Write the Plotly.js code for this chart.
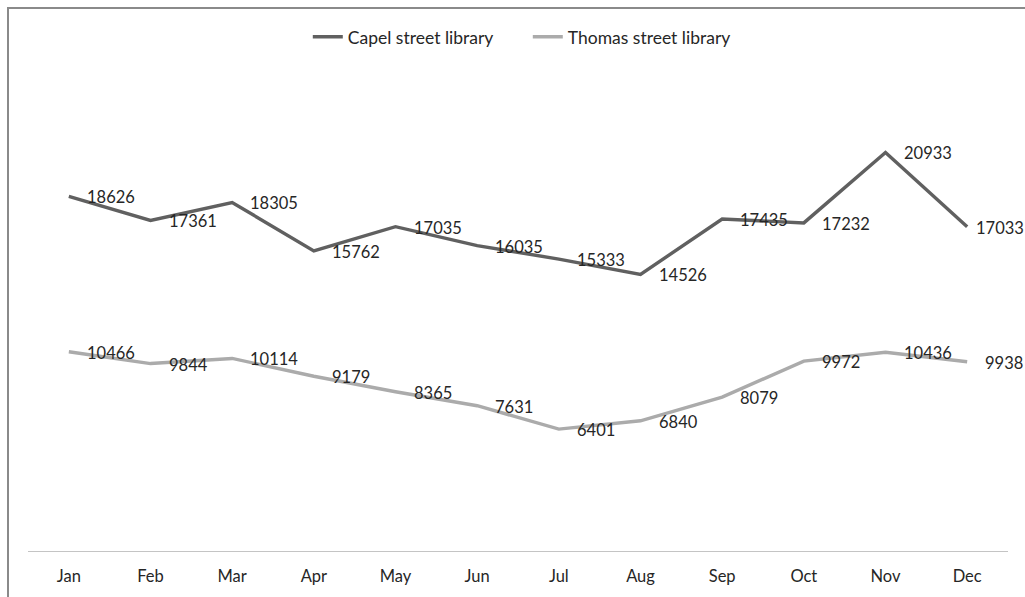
<!DOCTYPE html>
<html>
<head>
<meta charset="utf-8">
<script src="https://cdn.plot.ly/plotly-3.0.1.min.js"></script>
<style>
  html, body { margin: 0; padding: 0; background: #fff; }
  #wrap { position: relative; width: 1025px; height: 597px; overflow: hidden; }
  #chart { position: absolute; left: 0; top: 0; width: 1025px; height: 597px; }
  #frame { position: absolute; left: 7px; top: 7px; width: 1100px; height: 700px;
           border-left: 2px solid #8a8a8a; border-top: 2px solid #8a8a8a; pointer-events: none; }
</style>
</head>
<body>
<div id="wrap">
  <div id="chart"></div>
  <div id="frame"></div>
</div>
<script>
const months = ['Jan','Feb','Mar','Apr','May','Jun','Jul','Aug','Sep','Oct','Nov','Dec'];
const capelName = 'Capel street library';
const thomasName = 'Thomas street library';
const capel = [18626, 17361, 18305, 15762, 17035, 16035, 15333, 14526, 17435, 17232, 20933, 17033];
const thomas = [10466, 9844, 10114, 9179, 8365, 7631, 6401, 6840, 8079, 9972, 10436, 9938];

const FONT = 'Lato, "Open Sans", sans-serif';
const LABEL_SIZE = 16.5;
const W = 1025, ML = 28, MR = 17;

const traces = [
  { x: months, y: capel, name: capelName, type: 'scatter', mode: 'lines',
    line: { color: '#606060', width: 3.4 }, hoverinfo: 'skip' },
  { x: months, y: thomas, name: thomasName, type: 'scatter', mode: 'lines',
    line: { color: '#ababab', width: 3.4 }, hoverinfo: 'skip' }
];

// measure label widths so labels near the right edge are nudged inside the chart (as the original does)
const ctx = document.createElement('canvas').getContext('2d');
ctx.font = LABEL_SIZE + 'px Lato';
const plotW = W - ML - MR;
function labels(ys) {
  return ys.map((v, i) => {
    const txt = String(v);
    const px = ML + (i + 0.5) * plotW / months.length;
    const w = ctx.measureText(txt).width;
    let shift = 16;
    if (px + shift + w > W - 3) shift = Math.max(4, W - 3 - w - px);
    return {
      x: months[i], y: v, xref: 'x', yref: 'y', text: txt,
      showarrow: false, xanchor: 'left', yanchor: 'middle', xshift: shift, yshift: -1,
      font: { family: FONT, size: LABEL_SIZE, color: '#262626' }
    };
  });
}

const layout = {
  width: W, height: 597,
  margin: { l: ML, r: MR, t: 75, b: 46 },
  paper_bgcolor: '#ffffff', plot_bgcolor: '#ffffff',
  showlegend: true,
  legend: { orientation: 'h', x: 0.51, xanchor: 'center', y: 1.08, yanchor: 'middle',
            entrywidth: 175, entrywidthmode: 'pixels',
            font: { family: FONT, size: 17.5, color: '#262626' }, bgcolor: 'rgba(0,0,0,0)' },
  xaxis: { type: 'category', range: [-0.5, 11.5], showline: true, linecolor: '#c4c4c4', linewidth: 1.3,
           showgrid: false, zeroline: false, ticks: '', fixedrange: true, ticklabelstandoff: 10,
           tickfont: { family: FONT, size: 16.5, color: '#262626' } },
  yaxis: { range: [0, 25000], showgrid: false, zeroline: false, showline: false,
           showticklabels: false, ticks: '', fixedrange: true },
  annotations: labels(capel).concat(labels(thomas))
};

Plotly.newPlot('chart', traces, layout, { staticPlot: true, displayModeBar: false });
</script>
</body>
</html>
